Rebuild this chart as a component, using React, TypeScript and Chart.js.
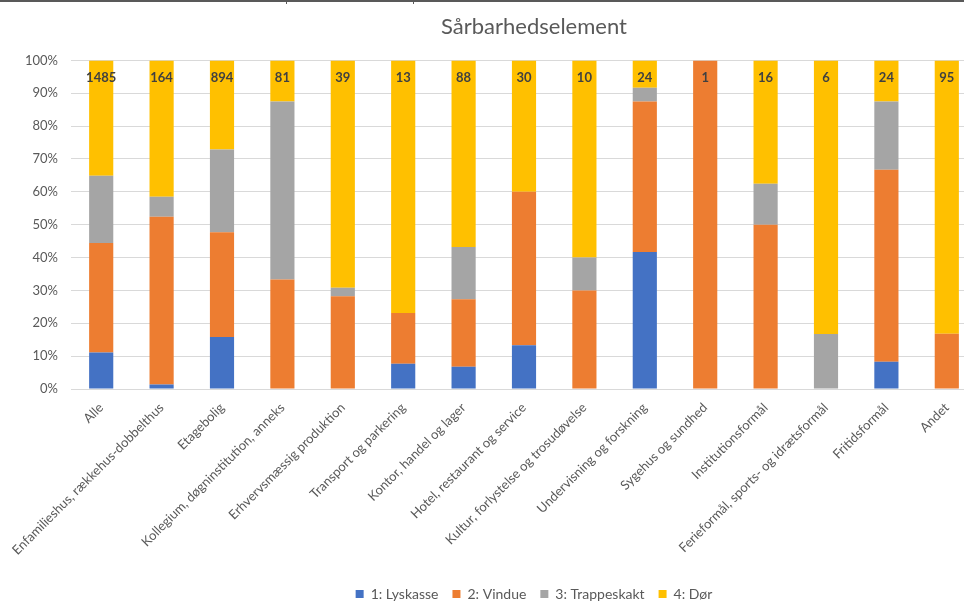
import React, { useEffect, useRef } from 'react';
import { Chart, registerables } from 'chart.js';

Chart.register(...registerables);

const categories = [
  'Alle',
  'Enfamilieshus, rækkehus-dobbelthus',
  'Etagebolig',
  'Kollegium, døgninstitution, anneks',
  'Erhvervsmæssig produktion',
  'Transport og parkering',
  'Kontor, handel og lager',
  'Hotel, restaurant og service',
  'Kultur, forlystelse og trosudøvelse',
  'Undervisning og forskning',
  'Sygehus og sundhed',
  'Institutionsformål',
  'Ferieformål, sports- og idrætsformål',
  'Fritidsformål',
  'Andet',
];

const counts = [1485, 164, 894, 81, 39, 13, 88, 30, 10, 24, 1, 16, 6, 24, 95];

const lyskasse = [11.1, 1.4, 15.8, 0, 0, 7.7, 6.8, 13.3, 0, 41.7, 0, 0, 0, 8.3, 0];
const vindue = [33.3, 51.0, 31.9, 33.3, 28.2, 15.4, 20.5, 46.7, 30, 45.8, 100, 50, 0, 58.4, 16.8];
const trappeskakt = [20.5, 6.1, 25.2, 54.2, 2.6, 0, 15.9, 0, 10, 4.2, 0, 12.5, 16.7, 20.8, 0];
const doer = [35.1, 41.5, 27.1, 12.5, 69.2, 76.9, 56.8, 40, 60, 8.3, 0, 37.5, 83.3, 12.5, 83.2];

const seriesNames = ['1: Lyskasse', '2: Vindue', '3: Trappeskakt', '4: Dør'];
const seriesColors = ['#4472C4', '#ED7D31', '#A5A5A5', '#FFC000'];
const yTicks = [0, 10, 20, 30, 40, 50, 60, 70, 80, 90, 100];

const FONT = 'Lato, "Open Sans", sans-serif';

const countLabels = {
  id: 'countLabels',
  afterDatasetsDraw(chart: any) {
    const ctx = chart.ctx;
    const meta = chart.getDatasetMeta(0);
    const yTop = chart.scales.y.getPixelForValue(100);
    ctx.save();
    ctx.font = `bold 13px ${FONT}`;
    ctx.fillStyle = '#404040';
    ctx.textAlign = 'center';
    ctx.textBaseline = 'middle';
    meta.data.forEach((el: any, i: number) => {
      ctx.fillText(String(counts[i]), el.x, yTop + 17);
    });
    ctx.restore();
  },
};

export default function App() {
  const ref = useRef<HTMLCanvasElement>(null);

  useEffect(() => {
    if (!ref.current) return;
    const data = [lyskasse, vindue, trappeskakt, doer];
    const chart = new Chart(ref.current, {
      type: 'bar',
      data: {
        labels: categories,
        datasets: data.map((d, i) => ({
          label: seriesNames[i],
          data: d,
          backgroundColor: seriesColors[i],
          borderWidth: 0,
          categoryPercentage: 1,
          barPercentage: 0.4,
        })),
      },
      options: {
        responsive: false,
        animation: false,
        devicePixelRatio: 1,
        layout: { padding: { top: 0, right: 0, left: 0, bottom: -9 } },
        plugins: {
          title: {
            display: true,
            text: 'Sårbarhedselement',
            color: '#595959',
            font: { family: FONT, size: 22, weight: 'normal' },
            padding: { top: 14, bottom: 20 },
          },
          legend: {
            position: 'bottom',
            labels: {
              boxWidth: 8,
              boxHeight: 8,
              color: '#595959',
              font: { family: FONT, size: 14 },
              padding: 14,
            },
          },
          tooltip: { enabled: false },
        },
        scales: {
          x: {
            stacked: true,
            grid: { display: false },
            border: { display: false },
            ticks: {
              color: '#595959',
              font: { family: FONT, size: 13 },
              minRotation: 45,
              maxRotation: 45,
              autoSkip: false,
              padding: 3,
            },
            afterFit: (axis: any) => {
              axis.height = 184;
            },
          },
          y: {
            stacked: true,
            min: 0,
            max: 100,
            afterBuildTicks: (axis: any) => {
              axis.ticks = yTicks.map((v) => ({ value: v }));
            },
            grid: { color: '#D9D9D9', lineWidth: 1, drawTicks: false },
            border: { display: false },
            ticks: {
              color: '#595959',
              font: { family: FONT, size: 13 },
              padding: 13,
              callback: (v: any) => `${v}%`,
            },
            afterFit: (axis: any) => {
              axis.width = 71;
            },
          },
          spacer: {
            type: 'linear',
            position: 'right',
            display: true,
            grid: { display: false },
            border: { display: false },
            ticks: { display: false },
            afterFit: (axis: any) => {
              axis.width = 91;
            },
          },
        },
      },
      plugins: [countLabels],
    });
    return () => chart.destroy();
  }, []);

  return (
    <div
      style={{
        position: 'fixed',
        left: 0,
        top: 0,
        width: 964,
        height: 602,
        overflow: 'hidden',
        background: '#fff',
      }}
    >
      <div style={{ position: 'absolute', left: 0, top: 0, width: 964, height: 2, background: '#595959' }} />
      <div style={{ position: 'absolute', left: 286, top: 0, width: 1, height: 4, background: '#595959' }} />
      <div style={{ position: 'absolute', left: 413, top: 0, width: 1, height: 4, background: '#595959' }} />
      <canvas
        ref={ref}
        width={1068}
        height={602}
        style={{ position: 'absolute', left: 0, top: 0, width: 1068, height: 602 }}
      />
    </div>
  );
}
